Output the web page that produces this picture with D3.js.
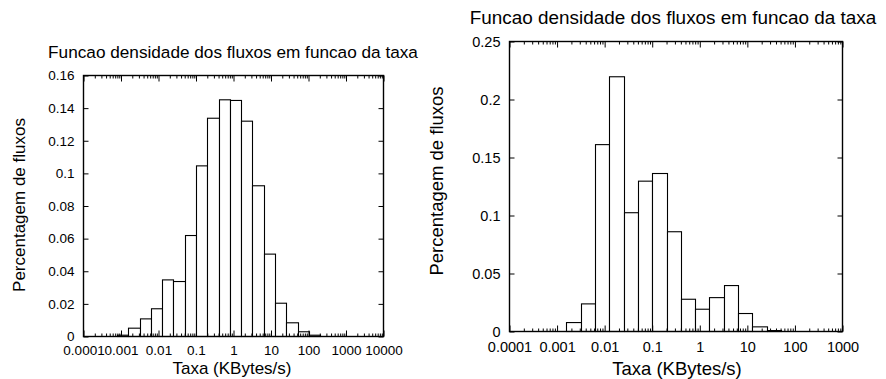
<!DOCTYPE html>
<html>
<head>
<meta charset="utf-8">
<script src="https://cdn.jsdelivr.net/npm/d3@7"></script>
<style>
  body { margin: 0; background: #fff; }
  text { font-family: "Liberation Sans", Arial, Helvetica, sans-serif; fill: #000; }
</style>
</head>
<body>
<svg id="chart" width="886" height="379"></svg>
<script>
// Histogram bin edges (KBytes/s), each bin doubles the previous one
const binEdges = [0.00078125, 0.0015625, 0.003125, 0.00625, 0.0125, 0.025, 0.05, 0.1, 0.2,
                  0.4, 0.8, 1.6, 3.2, 6.4, 12.8, 25.6, 51.2, 102.4, 204.8];

// Fraction of flows per bin
const leftValues  = [0.0008, 0.0051, 0.0108, 0.0170, 0.0347, 0.0337, 0.0619, 0.1046, 0.1338,
                     0.1451, 0.1447, 0.1320, 0.0924, 0.0505, 0.0204, 0.0084, 0.0029, 0.0008];
const rightValues = [0, 0.0077, 0.0238, 0.1611, 0.2196, 0.1024, 0.1296, 0.1362, 0.0860,
                     0.0278, 0.0192, 0.0292, 0.0396, 0.0155, 0.0040, 0.0008, 0, 0];

// Axis ticks and labels
const leftXTicks  = [1e-4, 1e-3, 1e-2, 1e-1, 1, 10, 100, 1000, 10000];
const leftXLabels = ["0.0001", "0.001", "0.01", "0.1", "1", "10", "100", "1000", "10000"];
const leftYTicks  = [0, 0.02, 0.04, 0.06, 0.08, 0.1, 0.12, 0.14, 0.16];
const leftYLabels = ["0", "0.02", "0.04", "0.06", "0.08", "0.1", "0.12", "0.14", "0.16"];

const rightXTicks  = [1e-4, 1e-3, 1e-2, 1e-1, 1, 10, 100, 1000];
const rightXLabels = ["0.0001", "0.001", "0.01", "0.1", "1", "10", "100", "1000"];
const rightYTicks  = [0, 0.05, 0.1, 0.15, 0.2, 0.25];
const rightYLabels = ["0", "0.05", "0.1", "0.15", "0.2", "0.25"];

const titleText = "Funcao densidade dos fluxos em funcao da taxa";
const xLabelText = "Taxa (KBytes/s)";
const yLabelText = "Percentagem de fluxos";

const svg = d3.select("#chart");
svg.append("rect").attr("width", 886).attr("height", 379).attr("fill", "#fff");

function drawPanel(cfg) {
  const { x0, x1, y0, y1 } = cfg;
  const g = svg.append("g");

  const x = d3.scaleLog().domain([cfg.xTicks[0], cfg.xTicks[cfg.xTicks.length - 1]]).range([x0, x1]);
  const y = d3.scaleLinear().domain([0, cfg.yTicks[cfg.yTicks.length - 1]]).range([y1, y0]);

  // bars
  const bins = cfg.values.map((v, i) => ({ lo: binEdges[i], hi: binEdges[i + 1], v }))
                         .filter(d => d.v > 0);
  g.append("g").selectAll("rect").data(bins).join("rect")
    .attr("x", d => Math.round(x(d.lo)) + 0.5)
    .attr("y", d => y(d.v))
    .attr("width", d => Math.round(x(d.hi)) - Math.round(x(d.lo)))
    .attr("height", d => y1 - y(d.v))
    .attr("fill", "#fff")
    .attr("stroke", "#000")
    .attr("stroke-width", 1.1);

  // minor log ticks (2..9 within each decade)
  const minor = [];
  for (let i = 0; i < cfg.xTicks.length - 1; i++) {
    for (let k = 2; k <= 9; k++) minor.push(cfg.xTicks[i] * k);
  }

  const fmtX = d => cfg.xLabels[cfg.xTicks.indexOf(d)];
  const fmtY = d => cfg.yLabels[cfg.yTicks.indexOf(d)];

  const style = sel => {
    sel.select(".domain").remove();
    sel.selectAll("line").attr("stroke", "#000").attr("stroke-width", 1);
  };

  // bottom axis with labels
  g.append("g").attr("transform", `translate(0,${y1})`)
    .call(d3.axisBottom(x).tickValues(cfg.xTicks).tickFormat(fmtX).tickSize(-6).tickPadding(cfg.xPad))
    .call(style)
    .call(s => s.selectAll("text").attr("font-size", cfg.tickFont).attr("font-family", null));
  g.append("g").attr("transform", `translate(0,${y1})`)
    .call(d3.axisBottom(x).tickValues(minor).tickFormat("").tickSize(-3))
    .call(style);
  // top mirror
  g.append("g").attr("transform", `translate(0,${y0})`)
    .call(d3.axisTop(x).tickValues(cfg.xTicks).tickFormat("").tickSize(-6))
    .call(style);
  g.append("g").attr("transform", `translate(0,${y0})`)
    .call(d3.axisTop(x).tickValues(minor).tickFormat("").tickSize(-3))
    .call(style);

  // left axis with labels
  g.append("g").attr("transform", `translate(${x0},0)`)
    .call(d3.axisLeft(y).tickValues(cfg.yTicks).tickFormat(fmtY).tickSize(-5).tickPadding(cfg.yPad))
    .call(style)
    .call(s => s.selectAll("text").attr("font-size", cfg.tickFont).attr("font-family", null));
  // right mirror
  g.append("g").attr("transform", `translate(${x1},0)`)
    .call(d3.axisRight(y).tickValues(cfg.yTicks).tickFormat("").tickSize(-5))
    .call(style);

  // frame
  g.append("rect")
    .attr("x", x0).attr("y", y0)
    .attr("width", x1 - x0).attr("height", y1 - y0)
    .attr("fill", "none").attr("stroke", "#000").attr("stroke-width", 1.4);

  // title and axis labels
  g.append("text").attr("x", cfg.titleX).attr("y", cfg.titleY)
    .attr("text-anchor", "middle").attr("font-size", cfg.titleFont).text(titleText);
  g.append("text").attr("x", cfg.xLabelX).attr("y", cfg.xLabelY)
    .attr("text-anchor", "middle").attr("font-size", cfg.labelFont).text(xLabelText);
  g.append("text")
    .attr("transform", `translate(${cfg.yLabelX},${cfg.yLabelY}) rotate(-90)`)
    .attr("text-anchor", "middle").attr("font-size", cfg.labelFont).text(yLabelText);
}

drawPanel({
  x0: 83.5, x1: 383.5, y0: 75.5, y1: 336.5,
  values: leftValues,
  xTicks: leftXTicks, xLabels: leftXLabels,
  yTicks: leftYTicks, yLabels: leftYLabels,
  tickFont: "13.5px", labelFont: "17px", titleFont: "17.2px",
  xPad: 9.4, yPad: 9,
  titleX: 233, titleY: 58,
  xLabelX: 232, xLabelY: 374,
  yLabelX: 25, yLabelY: 205
});

drawPanel({
  x0: 509.5, x1: 842.5, y0: 41.5, y1: 331.5,
  values: rightValues,
  xTicks: rightXTicks, xLabels: rightXLabels,
  yTicks: rightYTicks, yLabels: rightYLabels,
  tickFont: "14.5px", labelFont: "18.5px", titleFont: "18.9px",
  xPad: 10.3, yPad: 9,
  titleX: 673, titleY: 24,
  xLabelX: 677, xLabelY: 375,
  yLabelX: 443, yLabelY: 181
});
</script>
</body>
</html>
